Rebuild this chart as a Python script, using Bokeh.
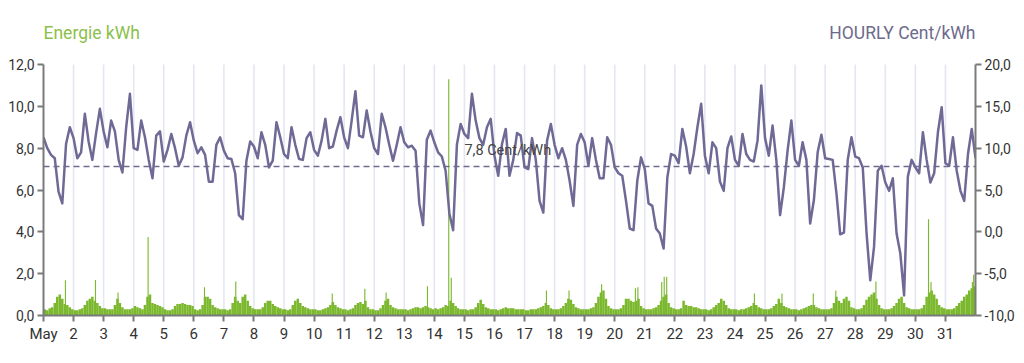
from bokeh.plotting import figure
from bokeh.models import (Range1d, LinearAxis, FixedTicker, ColumnDataSource, Span, Label)
from bokeh.embed import file_html
from bokeh.resources import INLINE

# ---------------- data ----------------
month_label = "May"
days = list(range(1, 32))
left_ticks = [0, 2, 4, 6, 8, 10, 12]
right_ticks = [-10, -5, 0, 5, 10, 15, 20]
kwh_min, kwh_max = 0, 12
price_min, price_max = -10, 20
avg_price = 7.8
avg_label = "7,8 Cent/kWh"
left_title = "Energie kWh"
right_title = "HOURLY Cent/kWh"

# hourly price (Cent/kWh), read every 3 hours from 1 May 00:00 to 1 June 00:00
price = [
    11.3, 10.0, 9.2, 8.8, 4.8, 3.4, 10.5, 12.5,      # 1
    11.2, 8.8, 9.5, 14.1, 10.8, 8.6, 11.8, 14.7,     # 2
    12.0, 10.1, 13.3, 12.0, 8.6, 7.1, 12.5, 16.5,    # 3
    10.0, 9.8, 13.3, 11.3, 8.6, 6.4, 11.5, 12.0,     # 4
    8.4, 9.8, 11.7, 10.0, 7.9, 8.9, 11.5, 13.1,      # 5
    10.9, 9.4, 10.1, 9.2, 6.0, 6.0, 10.4, 11.3,      # 6
    9.7, 8.8, 8.7, 7.0, 2.0, 1.5, 8.5, 10.8,         # 7
    10.2, 8.8, 11.9, 10.4, 7.7, 8.5, 13.1, 11.3,     # 8
    9.3, 8.8, 12.5, 10.4, 8.7, 8.6, 11.2, 11.9,      # 9
    9.8, 9.1, 10.9, 13.5, 10.0, 10.2, 12.1, 13.7,    # 10
    11.3, 10.0, 13.3, 16.8, 11.5, 11.3, 14.5, 12.0,  # 11
    10.0, 9.3, 14.1, 12.5, 10.4, 8.5, 10.4, 12.5,    # 12
    10.7, 10.1, 10.3, 9.7, 3.4, 0.8, 11.0, 12.1,     # 13
    10.7, 9.5, 9.0, 7.3, 2.2, 0.2, 10.4, 12.9,       # 14
    11.7, 11.2, 16.5, 13.3, 11.2, 10.4, 12.5, 13.5,  # 15
    9.1, 6.7, 10.5, 12.3, 6.7, 8.6, 11.8, 11.5,      # 16
    7.7, 7.5, 11.2, 8.6, 3.7, 2.3, 10.9, 12.9,       # 17
    10.4, 8.8, 10.0, 8.6, 6.1, 3.1, 10.4, 11.7,      # 18
    10.7, 7.9, 11.2, 8.6, 6.4, 6.4, 11.3, 10.4,      # 19
    7.7, 7.0, 6.7, 3.7, 0.4, 0.2, 6.1, 8.9,          # 20
    7.5, 3.4, 3.1, 0.4, -0.2, -2.0, 6.5, 9.3,        # 21
    9.1, 8.2, 12.3, 10.2, 7.0, 9.3, 12.5, 15.3,      # 22
    9.1, 7.0, 10.7, 10.0, 6.0, 4.9, 10.0, 11.4,      # 23
    8.6, 7.9, 11.7, 9.3, 8.6, 8.4, 10.9, 17.5,       # 24
    11.2, 9.1, 12.7, 8.6, 2.0, 5.3, 9.7, 13.3,       # 25
    8.6, 7.9, 10.7, 8.6, 1.0, 3.8, 9.5, 11.6,        # 26
    8.8, 8.7, 8.6, 4.6, -0.3, -0.1, 8.6, 11.3,       # 27
    9.0, 8.8, 7.7, -0.1, -5.8, -1.8, 7.3, 7.9,       # 28
    5.9, 4.9, 6.4, -0.2, -2.6, -7.6, 6.6, 8.6,       # 29
    7.7, 7.0, 11.9, 8.6, 5.9, 7.0, 11.9, 14.9,       # 30
    8.2, 7.9, 11.3, 7.3, 4.9, 3.7, 9.3, 12.3,        # 31
    8.8,
]
price_step_h = 3

# energy (kWh), 2-hour blocks per day
energy = [
    0.30, 0.25, 0.35, 0.40, 0.60, 0.90, 1.00, 0.80, 0.55, 0.50, 0.40, 0.30,  # 1
    0.25, 0.25, 0.30, 0.35, 0.50, 0.70, 0.80, 0.90, 0.70, 0.60, 0.45, 0.35,  # 2
    0.35, 0.30, 0.30, 0.30, 0.50, 0.80, 0.60, 0.40, 0.30, 0.30, 0.30, 0.35,  # 3
    0.45, 0.40, 0.35, 0.30, 0.50, 0.90, 1.00, 0.60, 0.55, 0.50, 0.45, 0.40,  # 4
    0.30, 0.25, 0.25, 0.30, 0.45, 0.55, 0.55, 0.60, 0.55, 0.50, 0.50, 0.45,  # 5
    0.30, 0.25, 0.30, 0.50, 0.90, 0.90, 0.80, 0.50, 0.40, 0.35, 0.30, 0.30,  # 6
    0.30, 0.25, 0.30, 0.60, 0.90, 0.70, 0.60, 0.90, 1.00, 0.70, 0.45, 0.35,  # 7
    0.30, 0.30, 0.30, 0.40, 0.60, 0.70, 0.70, 0.55, 0.45, 0.40, 0.35, 0.30,  # 8
    0.30, 0.25, 0.30, 0.50, 0.70, 0.80, 0.60, 0.45, 0.40, 0.35, 0.30, 0.30,  # 9
    0.30, 0.25, 0.25, 0.30, 0.35, 0.40, 0.50, 0.65, 0.50, 0.40, 0.35, 0.30,  # 10
    0.30, 0.25, 0.30, 0.35, 0.50, 0.60, 0.65, 0.55, 0.70, 0.40, 0.30, 0.30,  # 11
    0.25, 0.25, 0.35, 0.50, 0.70, 0.80, 0.50, 0.40, 0.35, 0.30, 0.30, 0.30,  # 12
    0.30, 0.25, 0.30, 0.35, 0.40, 0.40, 0.35, 0.40, 0.45, 0.40, 0.35, 0.30,  # 13
    0.35, 0.30, 0.35, 0.40, 0.50, 0.45, 0.70, 0.60, 0.45, 0.35, 0.30, 0.30,  # 14
    0.30, 0.25, 0.30, 0.30, 0.40, 0.60, 0.75, 0.55, 0.40, 0.35, 0.30, 0.30,  # 15
    0.30, 0.25, 0.30, 0.35, 0.40, 0.35, 0.35, 0.35, 0.30, 0.30, 0.30, 0.30,  # 16
    0.25, 0.25, 0.30, 0.30, 0.30, 0.35, 0.40, 0.45, 0.60, 0.50, 0.35, 0.30,  # 17
    0.30, 0.30, 0.35, 0.45, 0.60, 0.80, 0.75, 0.55, 0.40, 0.35, 0.30, 0.30,  # 18
    0.30, 0.30, 0.35, 0.40, 0.60, 0.90, 1.10, 1.20, 0.80, 0.45, 0.35, 0.30,  # 19
    0.30, 0.30, 0.35, 0.50, 0.80, 0.80, 0.70, 0.65, 0.70, 0.80, 0.45, 0.35,  # 20
    0.30, 0.30, 0.30, 0.35, 0.40, 0.50, 0.70, 0.90, 1.00, 0.60, 0.40, 0.35,  # 21
    0.30, 0.30, 0.35, 0.70, 0.50, 0.45, 0.45, 0.40, 0.40, 0.35, 0.30, 0.30,  # 22
    0.30, 0.25, 0.30, 0.40, 0.50, 0.60, 0.80, 0.70, 0.50, 0.35, 0.30, 0.30,  # 23
    0.30, 0.25, 0.30, 0.30, 0.35, 0.40, 0.45, 0.60, 0.50, 0.40, 0.35, 0.30,  # 24
    0.30, 0.30, 0.35, 0.45, 0.55, 0.80, 0.60, 0.45, 0.40, 0.35, 0.30, 0.30,  # 25
    0.30, 0.25, 0.30, 0.35, 0.40, 0.45, 0.50, 0.50, 0.40, 0.35, 0.30, 0.30,  # 26
    0.30, 0.30, 0.35, 0.60, 0.90, 0.70, 0.60, 0.80, 0.90, 0.70, 0.40, 0.35,  # 27
    0.30, 0.30, 0.35, 0.50, 0.75, 0.90, 1.00, 1.10, 0.80, 0.50, 0.35, 0.30,  # 28
    0.30, 0.30, 0.35, 0.45, 0.60, 0.80, 0.90, 0.60, 0.40, 0.35, 0.30, 0.30,  # 29
    0.30, 0.30, 0.35, 0.50, 0.90, 1.10, 1.20, 1.00, 0.80, 0.50, 0.40, 0.35,  # 30
    0.30, 0.30, 0.30, 0.35, 0.45, 0.60, 0.70, 0.90, 1.00, 1.20, 1.30, 1.40,  # 31
]
energy_step_h = 2

# single-hour peaks of energy (day, hour, kWh)
spike_day = [1, 2, 3, 4, 6, 7, 10, 11, 12, 13, 14, 14, 17, 18, 19, 20, 20, 21, 21, 21,
             24, 25, 26, 27, 28, 30, 30, 31, 31]
spike_hour = [17, 17, 11, 11, 8, 9, 14, 16, 9, 18, 11, 13, 17, 11, 13, 16, 18, 13, 15, 17,
              15, 13, 14, 8, 16, 10, 12, 21, 22]
spike_kwh = [1.68, 1.70, 1.10, 3.75, 1.35, 1.62, 1.05, 1.28, 1.10, 1.40, 11.3, 1.80, 1.20,
             1.20, 1.50, 1.30, 1.35, 1.60, 1.85, 1.85, 1.05, 1.05, 1.05, 1.20, 1.62, 4.60,
             1.60, 1.60, 1.95]

# ---------------- layout / styling ----------------
FONT = "Roboto"
GREEN = "#7bb82e"
PURPLE = "#6f6996"
AXIS = "#7a7a7a"
TXT = "#333333"

W, H = 1024, 363
B_LEFT, B_RIGHT, B_TOP, B_BOTTOM = 43, 49, 14, 48
DATA_TOP_PX = 64          # pixel row of the 12,0 / 20,0 ticks
px_per_kwh = (H - B_BOTTOM - DATA_TOP_PX) / (kwh_max - kwh_min)
kwh_top = kwh_max + (DATA_TOP_PX - B_TOP) / px_per_kwh
ratio = (price_max - price_min) / (kwh_max - kwh_min)
price_top = price_min + (kwh_top - kwh_min) * ratio

p = figure(width=W, height=H, x_range=Range1d(1, 32), y_range=Range1d(kwh_min, kwh_top),
           output_backend="svg", toolbar_location=None,
           min_border_left=B_LEFT, min_border_right=B_RIGHT,
           min_border_top=B_TOP, min_border_bottom=B_BOTTOM)
p.outline_line_color = None
p.background_fill_color = "white"
p.extra_y_ranges = {"price": Range1d(price_min, price_top)}
p.xgrid.visible = False
p.ygrid.visible = False

# vertical day lines (only over the data area)
p.segment(x0=days[1:], y0=[kwh_min] * 30, x1=days[1:], y1=[kwh_max] * 30,
          line_color="#e4e7f1", line_width=1.6)

# bars
e_src = ColumnDataSource(dict(
    x=[1 + (i * energy_step_h + energy_step_h / 2) / 24 for i in range(len(energy))],
    top=energy))
p.vbar(x="x", top="top", width=energy_step_h / 24, bottom=0, source=e_src,
       fill_color=GREEN, line_color=None)
s_src = ColumnDataSource(dict(
    x=[d + (h + 0.5) / 24 for d, h in zip(spike_day, spike_hour)], top=spike_kwh))
p.vbar(x="x", top="top", width=0.9 / 24, bottom=0, source=s_src,
       fill_color=GREEN, line_color=None)

# average price line
p.add_layout(Span(location=avg_price, dimension="width", y_range_name="price",
                  line_color="#6f6b8e", line_dash="6 4", line_width=1.5))
p.add_layout(Label(x=15, y=avg_price, y_range_name="price", text=avg_label,
                   text_font=FONT, text_font_size="14.5px", text_color="#444444",
                   text_baseline="middle", y_offset=16, x_offset=0))

# price line
pr_src = ColumnDataSource(dict(
    x=[1 + i * price_step_h / 24 for i in range(len(price))], y=price))
p.line(x="x", y="y", source=pr_src, y_range_name="price", line_color=PURPLE,
       line_width=2.5, line_join="round")

# axes
def style_axis(ax):
    ax.axis_line_color = AXIS
    ax.axis_line_width = 2
    ax.major_tick_line_color = AXIS
    ax.major_tick_line_width = 2
    ax.major_tick_out = 6
    ax.major_tick_in = 0
    ax.minor_tick_line_color = None
    ax.major_label_text_font = FONT
    ax.major_label_text_font_size = "14px"
    ax.major_label_text_color = TXT
    ax.major_label_standoff = 3

xa = p.xaxis[0]
xa.ticker = FixedTicker(ticks=days)
xa.major_label_overrides = {d: (month_label if d == 1 else str(d)) for d in days}
style_axis(xa)
xa.major_label_text_font_size = "15px"

ya = p.yaxis[0]
ya.ticker = FixedTicker(ticks=left_ticks)
ya.bounds = (kwh_min, kwh_max)
ya.major_label_overrides = {t: f"{t:.1f}".replace(".", ",") for t in left_ticks}
style_axis(ya)

ra = LinearAxis(y_range_name="price", ticker=FixedTicker(ticks=right_ticks),
                bounds=(price_min, price_max))
ra.major_label_overrides = {t: f"{t:.1f}".replace(".", ",") for t in right_ticks}
style_axis(ra)
p.add_layout(ra, "right")

# titles (inside the frame, above the data area)
p.add_layout(Label(x=1, y=kwh_max, y_offset=32, text=left_title,
                   text_font=FONT, text_font_size="17.5px", text_color="#8cbf4c",
                   text_align="left", text_baseline="middle"))
p.add_layout(Label(x=32, y=kwh_max, y_offset=32, text=right_title,
                   text_font=FONT, text_font_size="17.5px", text_color="#6e6a8c",
                   text_align="right", text_baseline="middle"))

open("out.html", "w").write(file_html(p, INLINE))
